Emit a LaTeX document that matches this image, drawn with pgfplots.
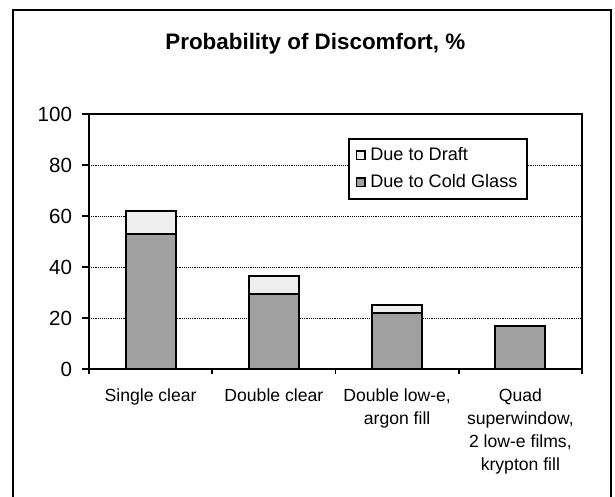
\documentclass[border=0pt]{standalone}
\usepackage{pgfplots}
\pgfplotsset{compat=1.18}
\usepackage{fontspec}
\setmainfont{Liberation Sans}
\definecolor{coldgray}{HTML}{A0A0A0}
\definecolor{draftgray}{HTML}{EEEEEE}
\begin{document}
\begin{tikzpicture}
\useasboundingbox (0,0) rectangle (461.25pt,372.75pt);
\draw[line width=1.6pt] (9.6pt,0pt) -- (9.6pt,365.25pt) -- (458.25pt,365.25pt) -- (458.25pt,0pt);
\node[font=\fontsize{16.8}{19}\selectfont\bfseries] at (236.5pt,340pt) {Probability of Discomfort, \%};
\begin{axis}[
  at={(66.75pt,96pt)}, anchor=south west,
  scale only axis, width=369.75pt, height=191.25pt,
  ybar stacked, bar width=37.5pt,
  xmin=-0.5, xmax=3.5, ymin=0, ymax=100,
  ytick={0,20,40,60,80,100},
  xtick={0,1,2,3},
  xticklabels={Single clear, Double clear, {Double low-e,\\argon fill}, {Quad\\superwindow,\\2 low-e films,\\krypton fill}},
  minor xtick={-0.5,0.5,1.5,2.5,3.5},
  major x tick style={draw=none},
  xtick pos=bottom, ytick pos=left,
  tick align=outside,
  major tick length=5pt, minor tick length=4pt,
  tick style={black, line width=1.4pt},
  axis line style={line width=1.7pt},
  ymajorgrids, grid style={black, densely dotted, line width=0.7pt},
  yticklabel style={font=\fontsize{15.4}{18}\selectfont, /pgf/number format/assume math mode=true, xshift=-4.25pt},
  xticklabel style={font=\fontsize{13.2}{17.25}\selectfont, align=center, anchor=north, yshift=-6pt},
  reverse legend,
  legend style={at={(0.525,0.906)}, anchor=north west, draw=black, line width=1.6pt, fill=white,
    font=\fontsize{13.6}{16}\selectfont, inner xsep=5pt, inner ysep=4.5pt, row sep=5pt},
  legend cell align=left,
  legend image code/.code={\draw[#1, line width=1.1pt] (0pt,-3.2pt) rectangle (6.4pt,3.2pt); \path[draw=none,fill=none] (0pt,0pt) -- (8.5pt,0pt);},
]
\addplot[fill=coldgray, draw=black, line width=1.5pt] coordinates {(0,53) (1,29.5) (2,22) (3,17)};
\addplot[fill=draftgray, draw=black, line width=1.5pt] coordinates {(0,9) (1,7) (2,3) (3,0)};
\legend{Due to Cold Glass, Due to Draft}
\end{axis}
\end{tikzpicture}
\end{document}
